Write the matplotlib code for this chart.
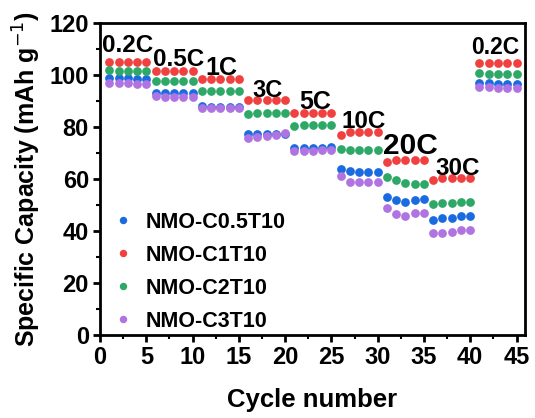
import matplotlib
matplotlib.use("Agg")
import matplotlib.pyplot as plt
import numpy as np
from matplotlib.ticker import MultipleLocator

plt.rcParams["font.family"] = ["Liberation Sans", "DejaVu Sans"]

cycles = np.arange(1, 46)

# capacity per cycle (mAh/g), 5 cycles per rate step
c05t10 = [98.8, 98.7, 98.7, 98.6, 98.6,
          93.2, 93.0, 93.0, 93.0, 92.9,
          88.0, 87.8, 87.8, 87.7, 87.7,
          77.2, 77.3, 77.2, 77.3, 77.4,
          71.8, 71.8, 71.9, 72.0, 72.1,
          63.8, 62.9, 62.8, 62.8, 62.8,
          53.2, 51.9, 51.3, 51.9, 52.2,
          44.0, 44.9, 45.1, 45.9, 45.9,
          96.9, 96.8, 96.7, 96.6, 96.5]
c1t10 = [105.1, 105.1, 105.1, 105.1, 105.1,
         101.7, 101.6, 101.6, 101.6, 101.6,
         98.4, 98.3, 98.3, 98.3, 98.3,
         90.4, 90.4, 90.4, 90.4, 90.4,
         85.4, 85.5, 85.5, 85.5, 85.5,
         76.9, 78.1, 78.2, 78.2, 78.2,
         66.4, 67.3, 67.3, 67.4, 67.4,
         59.6, 60.2, 60.2, 60.2, 60.3,
         104.6, 104.6, 104.6, 104.6, 104.6]
c2t10 = [101.8, 101.7, 101.7, 101.7, 101.7,
         97.7, 97.7, 97.7, 97.7, 97.7,
         94.0, 93.9, 93.9, 93.9, 93.9,
         85.0, 85.4, 85.5, 85.5, 85.5,
         80.3, 80.8, 80.9, 80.9, 80.9,
         71.4, 71.3, 71.3, 71.3, 71.3,
         60.9, 59.6, 58.6, 58.1, 58.0,
         50.4, 50.6, 50.6, 51.0, 51.3,
         100.6, 100.5, 100.5, 100.5, 100.5]
c3t10 = [97.0, 96.8, 96.8, 96.7, 96.7,
         91.9, 91.7, 91.7, 91.7, 91.7,
         87.2, 87.2, 87.2, 87.2, 87.2,
         75.6, 76.0, 76.5, 77.0, 77.6,
         70.9, 70.9, 70.9, 71.0, 71.0,
         61.2, 58.9, 58.7, 58.8, 59.0,
         48.7, 46.5, 45.9, 46.8, 47.0,
         39.1, 39.3, 39.7, 40.4, 40.4,
         95.5, 95.2, 94.9, 94.9, 94.9]

series = [
    ("NMO-C0.5T10", c05t10, "#1a6ae0"),
    ("NMO-C1T10", c1t10, "#f04040"),
    ("NMO-C2T10", c2t10, "#2ea866"),
    ("NMO-C3T10", c3t10, "#b073e2"),
]

rate_labels = ["0.2C", "0.5C", "1C", "3C", "5C", "10C", "20C", "30C", "0.2C"]
label_x = [3.0, 8.5, 13.1, 18.1, 23.3, 28.5, 33.5, 38.6, 42.7]
label_y = [111.5, 106.0, 102.7, 94.2, 89.7, 82.0, 72.8, 64.1, 110.6]
label_size = [17.5, 17.5, 18, 17, 18, 17.5, 21.5, 17.5, 16.5]

fig = plt.figure(figsize=(5.35, 4.18), dpi=100)
ax = fig.add_axes([0.187, 0.199, 0.794, 0.746])

for name, vals, col in series:
    ax.plot(cycles, vals, linestyle="none", marker="o", markersize=6.3,
            color=col, markeredgewidth=0, label=name)

for txt, x, y, s in zip(rate_labels, label_x, label_y, label_size):
    ax.text(x, y, txt, ha="center", va="center", fontsize=s, fontweight="bold")

ax.set_xlim(0, 45.9)
ax.set_ylim(0, 120)
ax.xaxis.set_major_locator(MultipleLocator(5))
ax.xaxis.set_minor_locator(MultipleLocator(2.5))
ax.yaxis.set_major_locator(MultipleLocator(20))
ax.yaxis.set_minor_locator(MultipleLocator(10))
ax.tick_params(which="major", direction="out", length=5, width=2,
               labelsize=17, pad=3)
ax.tick_params(which="minor", direction="out", length=3, width=1.5)
for lab in ax.get_xticklabels() + ax.get_yticklabels():
    lab.set_fontweight("bold")
for sp in ax.spines.values():
    sp.set_linewidth(2)

ax.set_xlabel("Cycle number", fontsize=18.5, fontweight="bold")
ax.set_ylabel("Specific Capacity (mAh g$^{-1}$)", fontsize=18, fontweight="bold")
ax.xaxis.set_label_coords(0.5, -0.208)
ax.xaxis.label.set_va("center")
ax.yaxis.set_label_coords(-0.172, 0.5)
ax.yaxis.label.set_va("center")

leg = ax.legend(loc="upper left", bbox_to_anchor=(-0.017, 0.456), frameon=False,
                prop={"weight": "bold", "size": 15.5},
                markerscale=0.85, handlelength=1.0, handletextpad=0.55,
                labelspacing=0.55)

fig.savefig("out.png", dpi=100)
